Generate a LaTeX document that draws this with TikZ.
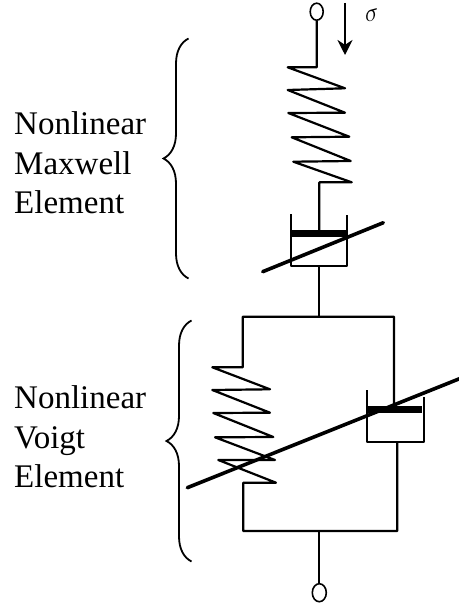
\documentclass[tikz,border=0pt]{standalone}
\usepackage{fontspec}
\setmainfont{Liberation Serif}
\usetikzlibrary{arrows.meta,positioning,calc,shapes.geometric,
                decorations.pathreplacing}
\tikzset{
  lbl/.style={font=\fontsize{33}{39.5}\selectfont,align=left,inner sep=0pt,anchor=west},
  termnd/.style={ellipse,draw,line width=1.6pt,fill=white,inner sep=0pt,
                 minimum width=13pt,minimum height=17pt},
  wire/.style={line width=2.2pt,line join=round},
  piston/.style={line width=7pt},
  slash/.style={line width=3.6pt,line cap=round},
  brc/.style={decorate,decoration={brace,amplitude=25pt,aspect=0.5},line width=1.8pt},
}
\begin{document}
\begin{tikzpicture}[x=1pt,y=-1pt]
    \useasboundingbox (0,0) rectangle (458,607);
    % labels
    \node[lbl] (maxlbl) at (14,163) {Nonlinear\\Maxwell\\Element};
    \node[lbl] (voilbl) at (14,437) {Nonlinear\\Voigt\\Element};
    % braces
    \coordinate (maxbot) at (188.5,278.5);
    \coordinate (maxtop) at (188.5,38.5);
    \coordinate (voibot) at (191.5,561.5);
    \coordinate (voitop) at (191.5,320.5);
    \draw[brc] (maxbot) -- (maxtop);
    \draw[brc] (voibot) -- (voitop);
    % end points
    \node[termnd] (topend) at (316.7,11.7) {};
    \node[termnd,minimum width=14pt,minimum height=18pt] (botend) at (319.3,592.7) {};
    % load arrow
    \coordinate (loadA) at (345,3);
    \coordinate (loadB) at (345,55);
    \draw[-{Stealth[length=15pt,width=15pt]},line width=2.2pt] (loadA) -- (loadB);
    \node[font=\fontsize{25}{25}\selectfont,inner sep=0pt,rotate=15] (sig) at (372,15) {$\sigma$};
    % maxwell spring
    \draw[wire] (topend.south) |- (287.7,67.3) -- (345,88.3) -- (287.7,90)
      -- (345,112.7) -- (288.3,113) -- (349.3,136.7) -- (291.7,137.3)
      -- (350.7,161) -- (293.3,161.7) -- (351.7,182.3) -- (319.3,182.3)
      -- (319.3,233);
    % maxwell dashpot
    \draw[wire] (291,214) |- (347.3,266) -- (347.3,215);
    \draw[piston] (291,233.3) -- (347.3,233.3);
    \draw[slash] (262.7,271.7) -- (383.3,222.7);
    \draw[wire] (319.3,266) -- (319.3,316.7);
    % voigt frame and spring
    \draw[wire] (394,409) |- (242.7,316.7) -- (242.7,367.3) -- (212.3,367.3)
      -- (270,389.3) -- (212.3,390) -- (270,412.7) -- (213.3,413)
      -- (273.3,437) -- (215,437.3) -- (275,460) -- (218.3,460)
      -- (276,482.7) -- (243.3,482.7) |- (397.3,531) -- (397.3,441.7);
    % voigt dashpot
    \draw[wire] (366.7,390) |- (423.7,441.7) -- (423.7,396.7);
    \draw[piston] (366.7,409) -- (421.7,409);
    \draw[slash] (187.3,487.7) -- (460,378.5);
    \draw[wire] (319.3,531) -- (botend.north);
\end{tikzpicture}
\end{document}
